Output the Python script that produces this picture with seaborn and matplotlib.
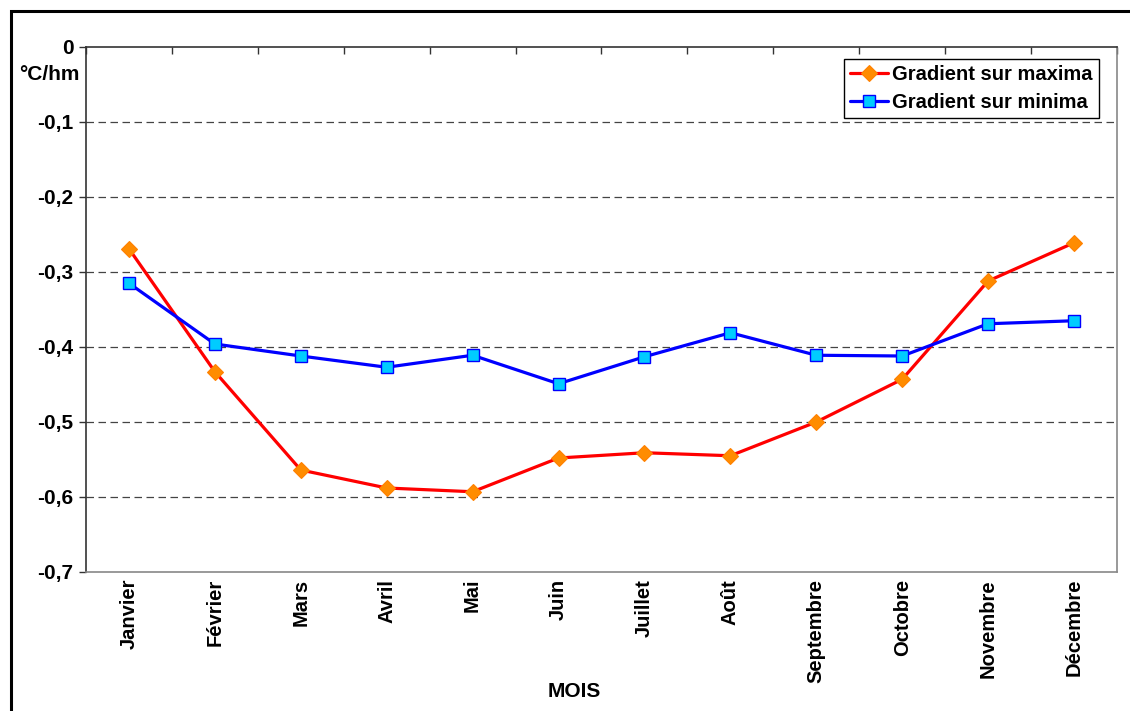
# Gradient thermique mensuel (maxima / minima)
#====================================================================================

import pandas as pd
import seaborn as sns
from matplotlib import pyplot as plt
from matplotlib.patches import Rectangle
from matplotlib.ticker import FixedLocator, FuncFormatter

# Data
mois = ['Janvier', 'Février', 'Mars', 'Avril', 'Mai', 'Juin', 'Juillet',
        'Août', 'Septembre', 'Octobre', 'Novembre', 'Décembre']
grad_max = [-0.269, -0.433, -0.564, -0.588, -0.593, -0.548, -0.541,
            -0.545, -0.500, -0.443, -0.312, -0.261]
grad_min = [-0.315, -0.396, -0.412, -0.427, -0.411, -0.449, -0.413,
            -0.381, -0.411, -0.412, -0.369, -0.365]
y_ticks = [0, -0.1, -0.2, -0.3, -0.4, -0.5, -0.6, -0.7]

tableau = pd.DataFrame({'mois': mois, 'max': grad_max, 'min': grad_min})

sns.set_style('white')
plt.rcParams['font.family'] = ['Liberation Sans', 'DejaVu Sans']
plt.rcParams['font.weight'] = 'bold'
plt.rcParams['text.color'] = 'black'
plt.rcParams['xtick.labelcolor'] = 'black'
plt.rcParams['ytick.labelcolor'] = 'black'
plt.rcParams['axes.labelcolor'] = 'black'

fig = plt.figure(figsize=(11.3, 7.11), dpi=100)
ax = fig.add_axes([0.0761, 0.1955, 0.9124, 0.7384])

# Lines
sns.lineplot(data=tableau, x='mois', y='max', ax=ax, sort=False,
             color='#FF0000', linewidth=2.3, marker='D', markersize=8,
             markerfacecolor='#FF8C00', markeredgecolor='#FF8000',
             markeredgewidth=0.8, label='Gradient sur maxima')
sns.lineplot(data=tableau, x='mois', y='min', ax=ax, sort=False,
             color='#0000FF', linewidth=2.3, marker='s', markersize=8.5,
             markerfacecolor='#00CCFF', markeredgecolor='#0000FF',
             markeredgewidth=1.0, label='Gradient sur minima')

ax.set_xlim(-0.5, 11.5)
ax.set_ylim(-0.7, 0)

# Horizontal dashed grid
for v in y_ticks[1:-1]:
    ax.axhline(v, color='#444444', linewidth=0.9, dashes=(6, 3.6), zorder=0)

# Y axis
ax.yaxis.set_major_locator(FixedLocator(y_ticks))
ax.yaxis.set_major_formatter(FuncFormatter(
    lambda v, p: '0' if abs(v) < 1e-9 else f'{v:.1f}'.replace('.', ',')))
ax.tick_params(axis='y', left=True, direction='out', length=5, width=1,
               labelsize=15, pad=4, color='#333333')

# X axis : labels centred, small ticks at category boundaries on the zero line
ax.set_xticks(range(len(mois)))
ax.set_xticklabels(mois, rotation=90, fontsize=14.5, fontweight='bold')
ax.tick_params(axis='x', which='major', bottom=False, top=False, length=0, pad=5)
ax.xaxis.set_minor_locator(FixedLocator([i - 0.5 for i in range(len(mois) + 1)]))
ax.tick_params(axis='x', which='minor', top=True, bottom=False,
               direction='in', length=5, width=1, color='#333333')

for side in ['left', 'top']:
    ax.spines[side].set_color('#333333')
    ax.spines[side].set_linewidth(1.2)
for side in ['right', 'bottom']:
    ax.spines[side].set_color('#888888')
    ax.spines[side].set_linewidth(1.2)

ax.set_xlabel('MOIS', fontsize=15, fontweight='bold')
ax.xaxis.set_label_coords(0.474, -0.2267)
ax.xaxis.label.set_va('center')
ax.set_ylabel('')
fig.text(49 / 1130, 1 - 75 / 711, '°C/hm', fontsize=15, fontweight='bold',
         ha='center', va='center')

# Legend
leg = ax.legend(loc='upper right', bbox_to_anchor=(0.9824, 0.977),
                fontsize=14.5, frameon=True, fancybox=False, framealpha=1,
                edgecolor='black', borderpad=0.3, labelspacing=0.45,
                handlelength=1.9, handletextpad=0.2, borderaxespad=0)
leg.get_frame().set_linewidth(1.0)
for t in leg.get_texts():
    t.set_fontweight('bold')
    t.set_color('black')

# Outer frame of the chart
fig.patches.append(Rectangle((11 / 1130, -0.2), 1.2, 0.2 + 1 - 11 / 711,
                             transform=fig.transFigure, fill=False,
                             edgecolor='black', linewidth=2.2, clip_on=False))

plt.savefig('out.png', dpi=100)
